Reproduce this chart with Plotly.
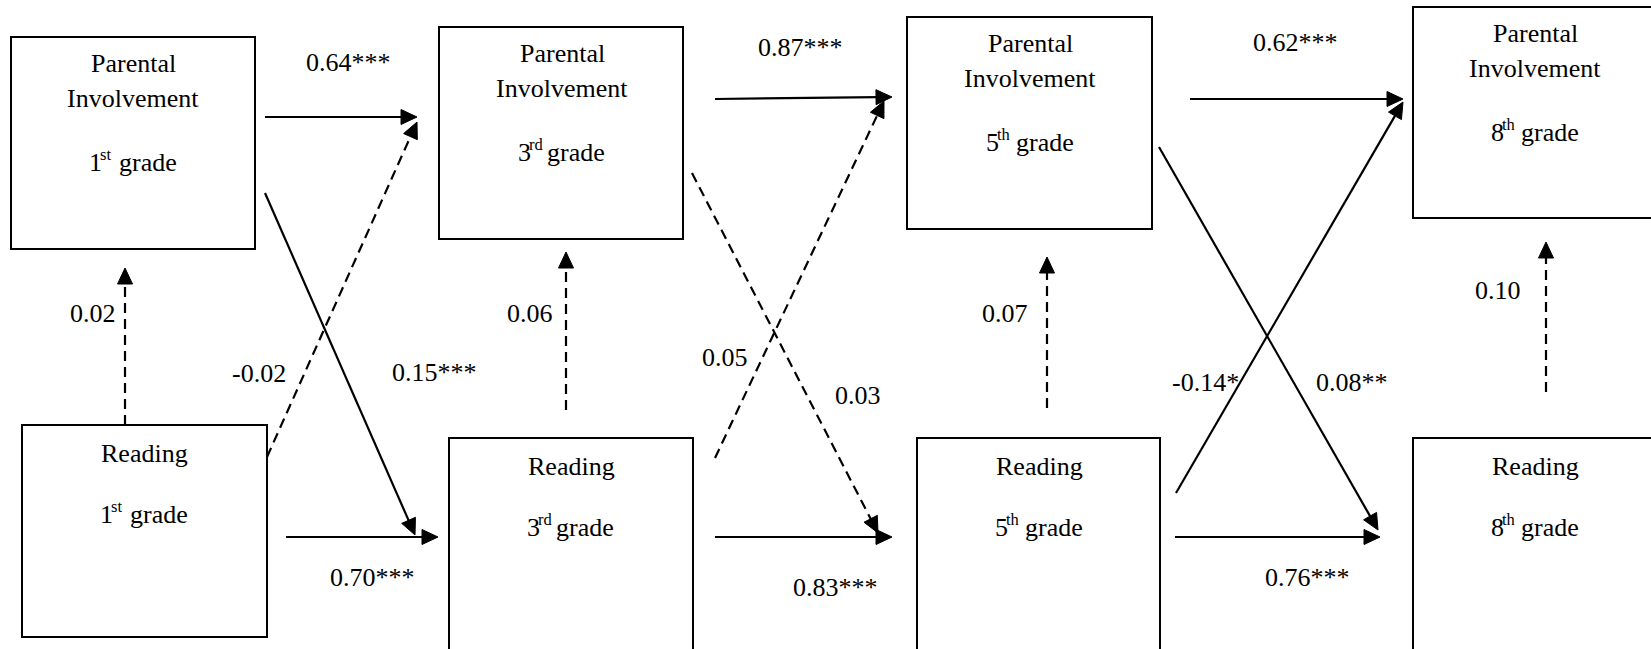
import math
import plotly.graph_objects as go

# ---------------- data ----------------
grade_nums = ["1", "3", "5", "8"]
grade_sfx = ["st", "rd", "th", "th"]
node_ids = ["PI1", "PI3", "PI5", "PI8", "R1", "R3", "R5", "R8"]

path_from = ["PI1", "R1", "PI1", "R1", "R1", "R3", "PI3", "R3", "PI3", "R3", "R5", "PI5", "R5", "PI5", "R5", "R8"]
path_to   = ["PI3", "PI3", "R3", "R3", "PI1", "PI3", "PI5", "PI5", "R5", "R5", "PI5", "PI8", "PI8", "R8", "R8", "PI8"]
coef      = [0.64, -0.02, 0.15, 0.70, 0.02, 0.06, 0.87, 0.05, 0.03, 0.83, 0.07, 0.62, -0.14, 0.08, 0.76, 0.10]
stars     = ["***", "", "***", "***", "", "", "***", "", "", "***", "", "***", "*", "**", "***", ""]

# ---------------- layout geometry (pixels) ----------------
W, H = 1651, 649
boxes = {  # x0, y0, x1, y1
    "PI1": (11, 37, 255, 249),
    "PI3": (439, 27, 683, 239),
    "PI5": (907, 17, 1152, 229),
    "PI8": (1413, 7, 1660, 218),
    "R1": (22, 425, 267, 637),
    "R3": (449, 438, 693, 670),
    "R5": (917, 438, 1160, 670),
    "R8": (1413, 438, 1660, 670),
}
text_cx = {"PI1": 133, "PI3": 562, "PI5": 1030, "PI8": 1535,
           "R1": 144, "R3": 571, "R5": 1039, "R8": 1535}
# path line endpoints (tail, tip)
path_geom = [
    ((265, 117), (417, 117)),
    ((267, 457), (417, 122)),
    ((265, 193), (415, 535)),
    ((286, 537), (438, 537)),
    ((125, 425), (125, 268)),
    ((566, 410), (566, 252)),
    ((715, 99), (892, 97)),
    ((715, 458), (884, 101)),
    ((692, 173), (878, 533)),
    ((715, 537), (892, 537)),
    ((1047, 408), (1047, 257)),
    ((1190, 99), (1403, 99)),
    ((1176, 493), (1403, 102)),
    ((1159, 147), (1378, 530)),
    ((1175, 537), (1380, 537)),
    ((1546, 392), (1546, 242)),
]
label_pos = [
    (348, 62), (259, 373), (434, 372), (372, 577), (93, 313), (530, 313),
    (800, 47), (725, 357), (858, 395), (835, 587), (1005, 313), (1295, 42),
    (1205, 382), (1352, 382), (1307, 577), (1498, 290),
]

FONT = dict(family="Liberation Serif", size=26, color="black")
SUPFONT = dict(family="Liberation Serif", size=16.5, color="black")
LW = 2.2
HEAD_LEN, HEAD_HALF = 16, 7.5

fig = go.Figure()
fig.add_trace(go.Scatter(x=[0, W], y=[0, H], mode="markers",
                         marker=dict(opacity=0), hoverinfo="skip", showlegend=False))

shapes = []
annotations = []


def txt(x, y, s, font=FONT, xanchor="center"):
    annotations.append(dict(x=x, y=y, xref="x", yref="y", text=s, showarrow=False,
                            xanchor=xanchor, yanchor="middle", font=font, borderpad=0))


# boxes + their text
for nid in node_ids:
    x0, y0, x1, y1 = boxes[nid]
    shapes.append(dict(type="rect", xref="x", yref="y", x0=x0, y0=y0, x1=x1, y1=y1,
                       line=dict(color="black", width=2), fillcolor="rgba(0,0,0,0)"))
    gi = grade_nums.index(nid[-1])
    cx = text_cx[nid]
    if nid.startswith("PI"):
        txt(cx, y0 + 26, "Parental")
        txt(cx, y0 + 61, "Involvement")
        gy = y0 + 125
    else:
        txt(cx, y0 + 28, "Reading")
        gy = y0 + 89
    # ordinal: number, superscript suffix, "grade"
    txt(cx - 30, gy, grade_nums[gi], xanchor="right")
    txt(cx - 34, gy - 8, grade_sfx[gi], font=SUPFONT, xanchor="left")
    txt(cx - 16 if gi == 1 else cx - 15, gy, "grade", xanchor="left")

# paths
for i in range(len(coef)):
    (tx, ty), (hx, hy) = path_geom[i]
    dashed = stars[i] == ""
    dx, dy = hx - tx, hy - ty
    L = math.hypot(dx, dy)
    ux, uy = dx / L, dy / L
    bx, by = hx - ux * HEAD_LEN, hy - uy * HEAD_LEN
    line = dict(color="black", width=LW)
    if dashed:
        line["dash"] = "10px,6px"
    shapes.append(dict(type="line", xref="x", yref="y", x0=tx, y0=ty,
                       x1=bx + ux * 2, y1=by + uy * 2, line=line))
    px, py = -uy, ux
    p1 = (bx + px * HEAD_HALF, by + py * HEAD_HALF)
    p2 = (bx - px * HEAD_HALF, by - py * HEAD_HALF)
    shapes.append(dict(type="path", xref="x", yref="y",
                       path=f"M {hx:.2f},{hy:.2f} L {p1[0]:.2f},{p1[1]:.2f} L {p2[0]:.2f},{p2[1]:.2f} Z",
                       fillcolor="black", line=dict(color="black", width=1)))
    lx, ly = label_pos[i]
    txt(lx, ly, f"{coef[i]:.2f}{stars[i]}")

fig.update_layout(
    width=W, height=H, autosize=False,
    margin=dict(l=0, r=0, t=0, b=0),
    paper_bgcolor="white", plot_bgcolor="white",
    xaxis=dict(range=[0, W], visible=False, fixedrange=True),
    yaxis=dict(range=[H, 0], visible=False, fixedrange=True),
    shapes=shapes, annotations=annotations, showlegend=False,
)

fig.write_html("out.html", config={"displayModeBar": False},
               post_script="document.body.style.margin='0';document.body.style.overflow='hidden';")
